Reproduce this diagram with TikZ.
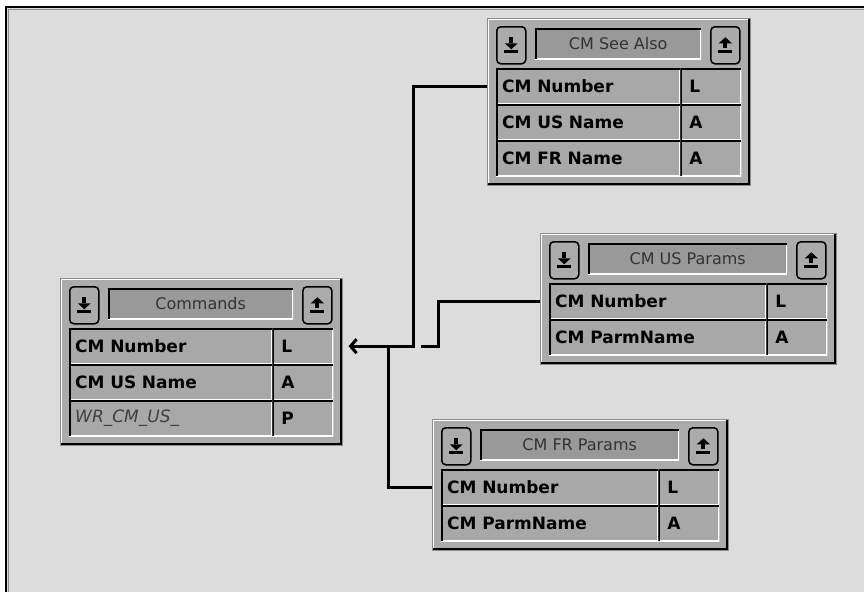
\documentclass[tikz,border=0pt]{standalone}
\usepackage{fontspec}
\setsansfont{DejaVu Sans}
\usetikzlibrary{arrows.meta}
\definecolor{canvas}{gray}{0.863}
\definecolor{panelgray}{gray}{0.67}
\definecolor{cellgray}{gray}{0.66}
\definecolor{titlegray}{gray}{0.60}
\newcommand\fieldfont{\fontsize{17}{20}\selectfont\sffamily\bfseries}
\newcommand\titlefont{\fontsize{16}{19}\selectfont\sffamily}
\newcommand\calcfont{\fontsize{17}{20}\selectfont\sffamily\itshape}

\tikzset{
  sunken/.style={path picture={
    \draw[white,line width=2pt] (path picture bounding box.south west) -- (path picture bounding box.south east) -- (path picture bounding box.north east);
    \draw[black,line width=3pt] (path picture bounding box.south west) -- (path picture bounding box.north west) -- (path picture bounding box.north east);}},
  panel/.style={anchor=north west,inner sep=0pt,fill=panelgray,draw=black!45,line width=0.6pt,
    path picture={
    \draw[white,line width=3pt] (path picture bounding box.south west) -- (path picture bounding box.north west) -- (path picture bounding box.north east);
    \draw[black,line width=5pt] (path picture bounding box.south west) -- (path picture bounding box.south east) -- (path picture bounding box.north east);}},
  btn/.style={anchor=north west,minimum width=29pt,minimum height=37pt,inner sep=0pt,
    rounded corners=4pt,fill=panelgray,draw=black,line width=1.5pt},
  titlebox/.style={anchor=north west,minimum height=31pt,inner sep=0pt,fill=titlegray,
    sunken,font=\titlefont,text=black!80},
  namecell/.style={anchor=north west,minimum height=36pt,inner xsep=6pt,inner ysep=0pt,
    align=left,fill=cellgray,sunken,font=\fieldfont},
  typecell/.style={namecell,anchor=north east,text width=43pt,inner xsep=9pt},
  link/.style={line width=3pt},
  downsym/.pic={\fill (-2,-8) rectangle (2,-2);
    \fill (-6.5,-2) -- (6.5,-2) -- (0,4) -- cycle;
    \fill (-7,5) rectangle (7,7.5);},
  upsym/.pic={\fill (0,-8) -- (6.5,-2) -- (-6.5,-2) -- cycle;
    \fill (-2,-2) rectangle (2,3);
    \fill (-7,5) rectangle (7,7.5);}
}

% panel: name, x, y, width, rows, title
\newcommand\cmpanel[6]{%
  \xdef\pw{#4}%
  \pgfmathsetmacro\ph{59+36*#5}%
  \pgfmathsetmacro\tbw{#4-97}%
  \node[panel,minimum width=#4pt,minimum height=\ph pt] (#1) at (#2,#3) {};
  \node[btn] (#1-dn) at ([shift={(9,8)}]#1.north west) {};
  \node[btn,anchor=north east] (#1-up) at ([shift={(-10,8)}]#1.north east) {};
  \pic at (#1-dn.center) {downsym};
  \pic at (#1-up.center) {upsym};
  \node[titlebox,minimum width=\tbw pt] (#1-t) at ([shift={(48,10)}]#1.north west) {#6};
}
% row: [style] panel, row no, field, type, name
\newcommand\cmrow[6][]{%
  \pgfmathsetmacro\nw{\pw-91}%
  \node[namecell,text width=\nw pt,#1] (#6) at ([shift={(9,50+36*#3)}]#2.north west) {#4};
  \node[typecell] (#6-t) at ([shift={(-9,50+36*#3)}]#2.north east) {#5};
}

\begin{document}
\begin{tikzpicture}[x=1pt,y=-1pt]
\useasboundingbox (0,0) rectangle (864,592);
\fill[white] (0,0) rectangle (864,592);
\fill[canvas] (6,7) rectangle (864,592);
\draw[line width=2.5pt] (6,592) -- (6,7) -- (864,7);
\draw[black!45,line width=1pt] (8.5,592) -- (8.5,9.5) -- (864,9.5);

% tables
\cmpanel{cmdP}{60}{278}{282}{3}{Commands}
\cmrow{cmdP}{0}{CM Number}{L}{cmdNum}
\cmrow{cmdP}{1}{CM US Name}{A}{cmdUS}
\cmrow[font=\calcfont,text=black!75]{cmdP}{2}{WR\_CM\_US\_}{P}{cmdWR}

\cmpanel{seeP}{487}{18}{263}{3}{CM See Also}
\cmrow{seeP}{0}{CM Number}{L}{seeNum}
\cmrow{seeP}{1}{CM US Name}{A}{seeUS}
\cmrow{seeP}{2}{CM FR Name}{A}{seeFR}

\cmpanel{usP}{540}{233}{296}{2}{CM US Params}
\cmrow{usP}{0}{CM Number}{L}{usNum}
\cmrow{usP}{1}{CM ParmName}{A}{usParm}

\cmpanel{frP}{432}{419}{296}{2}{CM FR Params}
\cmrow{frP}{0}{CM Number}{L}{frNum}
\cmrow{frP}{1}{CM ParmName}{A}{frParm}

% links
\coordinate (jn) at ([xshift=71]cmdP.east |- cmdNum);
\coordinate (tip) at ([xshift=6]cmdP.east |- cmdNum);
\draw[link,-{Straight Barb[length=6pt,width=14pt]}] (seeP.west |- seeNum) -| (jn) -- (tip);
\draw[link] (usP.west |- usNum) -| ([xshift=25]jn) -- ([xshift=7]jn);
\draw[link] (frP.west |- frNum) -| ([xshift=-25]jn);
\end{tikzpicture}
\end{document}
